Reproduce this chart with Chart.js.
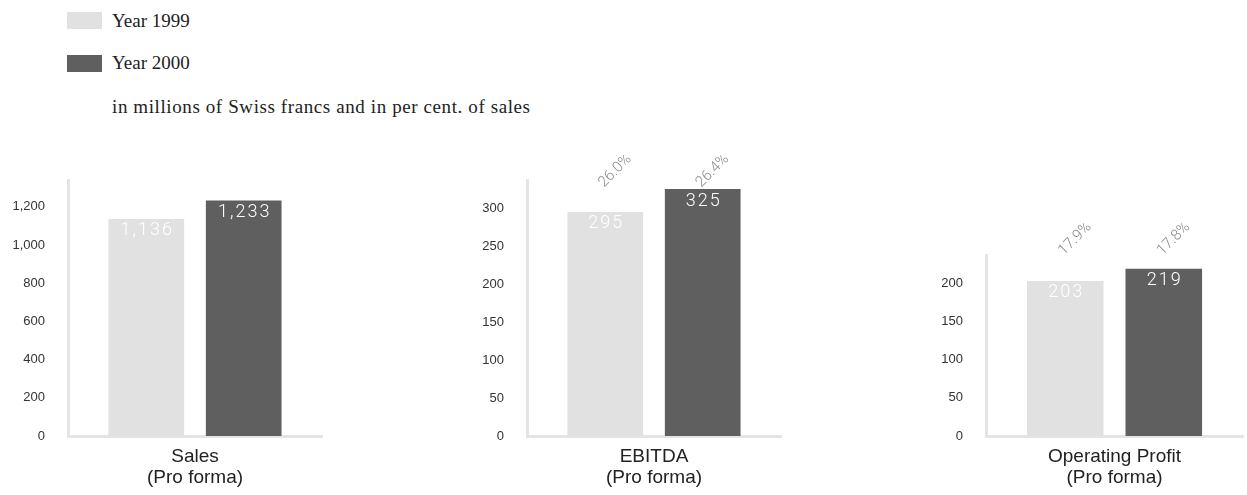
<!DOCTYPE html>
<html>
<head>
<meta charset="utf-8">
<script src="https://cdn.jsdelivr.net/npm/chart.js@4.4.1/dist/chart.umd.min.js"></script>
<style>
  body { margin: 0; background: #fff; width: 1247px; height: 495px; position: relative; overflow: hidden;
         font-family: 'Liberation Serif', serif; color: #222; }
  .key { position: absolute; left: 67px; width: 35px; height: 17px; }
  .txt { position: absolute; left: 112px; font-size: 19px; line-height: 20px; white-space: nowrap; }
  #note { letter-spacing: 0.6px; }
  .box { position: absolute; top: 140px; }
</style>
</head>
<body>
<div class="key" id="key0" style="top:12px"></div>
<div class="txt" id="txt0" style="top:11px"></div>
<div class="key" id="key1" style="top:55px"></div>
<div class="txt" id="txt1" style="top:53px"></div>
<div class="txt" id="note" style="top:97px"></div>

<div class="box" style="left:0px"><canvas id="c0" width="340" height="355"></canvas></div>
<div class="box" style="left:459px"><canvas id="c1" width="340" height="355"></canvas></div>
<div class="box" style="left:918px"><canvas id="c2" width="329" height="355"></canvas></div>

<script>
// ---- DATA ----
const years = ['Year 1999', 'Year 2000'];
const note = 'in millions of Swiss francs and in per cent. of sales';
const metrics = ['Sales', 'EBITDA', 'Operating Profit'];
const metricSub = '(Pro forma)';
const values1999 = [1136, 295, 203];
const values2000 = [1233, 325, 219];
const margin1999 = [null, 26.0, 17.9]; // % of sales
const margin2000 = [null, 26.4, 17.8];
const salesTicks = [0, 200, 400, 600, 800, 1000, 1200];
const ebitdaTicks = [0, 50, 100, 150, 200, 250, 300];
const profitTicks = [0, 50, 100, 150, 200];

const colors = ['#e1e1e1', '#5f5f5f'];
const axisColor = '#e4e4e4';

// html legend (shared by the three charts)
years.forEach((y, i) => {
  document.getElementById('key' + i).style.background = colors[i];
  document.getElementById('txt' + i).textContent = y;
});
document.getElementById('note').textContent = note;

// value inside bar + rotated margin above it
const barLabels = {
  id: 'barLabels',
  afterDatasetsDraw(chart, args, opts) {
    const { ctx, chartArea } = chart;
    ctx.save();
    chart.data.datasets.forEach((ds, d) => {
      chart.getDatasetMeta(d).data.forEach((bar, j) => {
        ctx.font = '300 18px Roboto';
        ctx.fillStyle = '#fff';
        ctx.textAlign = 'center';
        ctx.textBaseline = 'middle';
        ctx.letterSpacing = '2px';
        ctx.fillText(ds.data[j].toLocaleString('en-US'), bar.x + 1, bar.y + 12);
        const pct = opts.margins[d];
        if (pct != null) {
          ctx.save();
          ctx.translate(bar.x + 10, chartArea.top - opts.lift);
          ctx.rotate(-Math.PI / 4);
          ctx.letterSpacing = '0px';
          ctx.font = '300 15px Roboto';
          ctx.fillStyle = '#888';
          ctx.fillText(pct.toFixed(1) + '%', 0, 0);
          ctx.restore();
        }
      });
    });
    ctx.restore();
  }
};

function makeChart(i, ticks, max, padTop, padRight, lift) {
  return new Chart(document.getElementById('c' + i), {
    type: 'bar',
    data: {
      labels: [[metrics[i], metricSub]],
      datasets: [
        { label: years[0], data: [values1999[i]], backgroundColor: colors[0] },
        { label: years[1], data: [values2000[i]], backgroundColor: colors[1] },
      ],
    },
    options: {
      responsive: false,
      animation: false,
      devicePixelRatio: 1,
      layout: { padding: { top: padTop, right: padRight, left: 0, bottom: 0 } },
      datasets: { bar: { barPercentage: 0.777, categoryPercentage: 0.767 } },
      scales: {
        x: {
          grid: { display: false, drawTicks: false },
          border: { color: axisColor, width: 3 },
          afterFit: s => { s.height = 59; },
          ticks: {
            padding: 10,
            maxRotation: 0,
            color: '#222',
            font: { family: 'Liberation Sans', size: 19, lineHeight: 1.1 },
          },
        },
        y: {
          min: 0,
          max: max,
          grid: { display: false, drawTicks: false },
          border: { color: axisColor, width: 3 },
          afterBuildTicks: s => { s.ticks = ticks.map(v => ({ value: v })); },
          afterFit: s => { s.width = 68; },
          ticks: {
            padding: 23,
            color: '#333',
            font: { family: 'Liberation Sans', size: 13 },
          },
        },
      },
      plugins: {
        legend: { display: false },
        tooltip: { enabled: false },
        barLabels: { margins: [margin1999[i], margin2000[i]], lift: lift },
      },
    },
    plugins: [barLabels],
  });
}

makeChart(0, salesTicks, 1340, 40, 18, 0);
makeChart(1, ebitdaTicks, 337, 40, 18, 9);
makeChart(2, profitTicks, 237, 115, 4, 16);
</script>
</body>
</html>
